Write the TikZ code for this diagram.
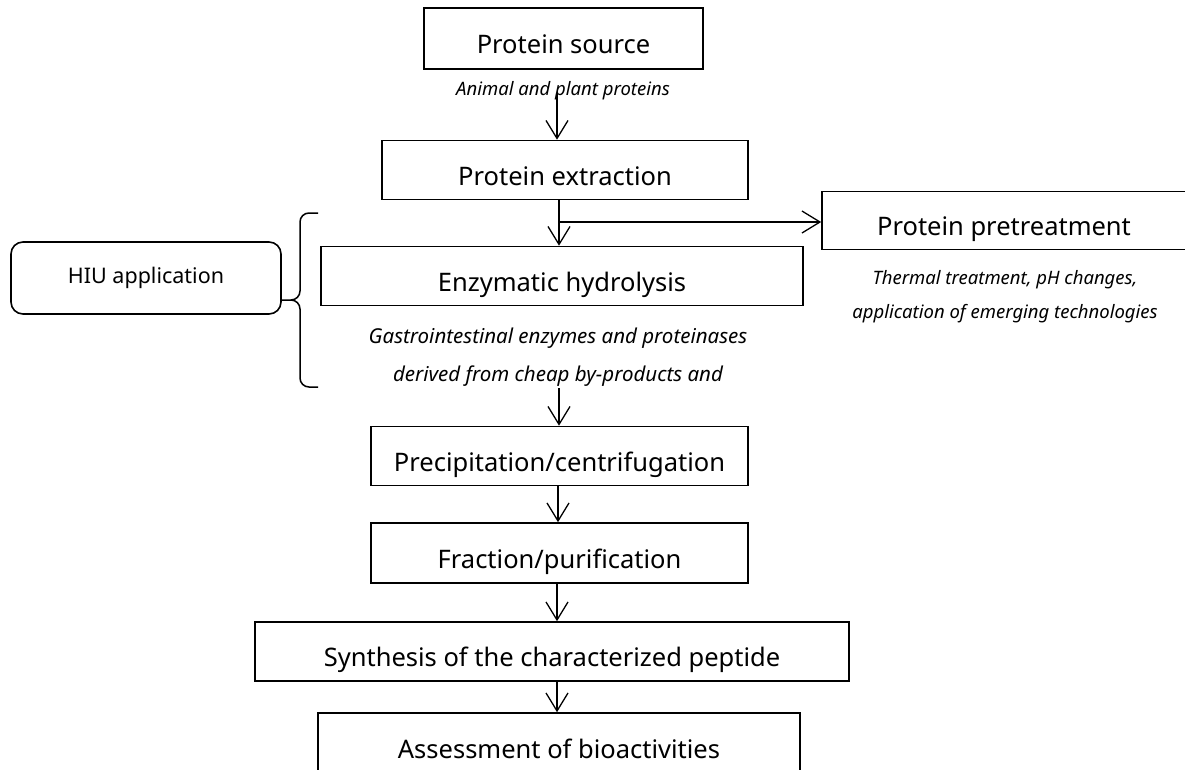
\documentclass[tikz,border=0pt]{standalone}
\usepackage{fontspec}
\setmainfont{Noto Sans}
\usetikzlibrary{arrows.meta}
\begin{document}
\begin{tikzpicture}[x=1pt,y=-1pt,
  box/.style={draw,line width=1.6pt,inner sep=0pt,
    font=\fontsize{25.5}{30}\selectfont,text height=31pt,text depth=1pt},
  note/.style={font=\fontsize{18.5}{22}\selectfont\itshape,anchor=base,inner sep=0pt},
  bignote/.style={note,font=\fontsize{20.5}{24}\selectfont\itshape},
  arr/.style={line width=1.3pt,-{Straight Barb[length=18pt,width=22pt,line width=1.3pt]}}]
\clip (0,0) rectangle (1185,769);
\fill[white] (0,0) rectangle (1185,769);
% boxes
\node[box,minimum width=279pt,minimum height=61pt] (src) at (563.5,38.5) {Protein source};
\node[box,minimum width=366pt,minimum height=59pt] (ext) at (565,170) {Protein extraction};
\node[box,minimum width=364pt,minimum height=58pt] (pre) at (1004,220.5) {Protein pretreatment};
\node[box,minimum width=482pt,minimum height=59pt] (enz) at (562,276) {Enzymatic hydrolysis};
\node[box,minimum width=377pt,minimum height=59pt] (prec) at (559.5,456) {Precipitation/centrifugation};
\node[box,minimum width=377pt,minimum height=60pt] (frac) at (559.5,553) {Fraction/purification};
\node[box,minimum width=594pt,minimum height=59pt] (syn) at (552,651.5) {Synthesis of the characterized peptide};
\node[box,minimum width=482pt,minimum height=60pt] (ass) at (559,743) {Assessment of bioactivities};
\node[draw,line width=1.6pt,rounded corners=12pt,minimum width=270pt,minimum height=72pt,
  inner sep=0pt,font=\fontsize{21.5}{26}\selectfont] (hiu) at (146,278) {HIU application};
% notes
\node[note] (n1) at (563,95.5) {Animal and plant proteins};
\node[bignote] (n2) at (558,343) {Gastrointestinal enzymes and proteinases};
\node[bignote] (n3) at (558,381) {derived from cheap by-products and};
\node[note] (n4) at (1005,284.5) {Thermal treatment, pH changes,};
\node[note] (n5) at (1005,318.5) {application of emerging technologies};
% brace
\coordinate (tip) at (282,300);
\draw[line width=1.5pt] (318,213) -- (309,213) to[out=180,in=90] (300,222) -- (300,291)
  to[out=-90,in=0] (291,300) -- (tip);
\draw[line width=1.5pt] (291,300) to[out=0,in=90] (300,309) -- (300,378)
  to[out=-90,in=180] (309,387) -- (318,387);
% arrows
\coordinate (a1) at (557,93);
\draw[arr] (a1) -- (a1 |- ext.north);
\coordinate (a2) at (559,199);
\draw[arr] (a2) -- (a2 |- enz.north);
\coordinate (b) at (559,222);
\draw[arr] (b) -- (b -| pre.west);
\coordinate (a3) at (559,388);
\draw[arr] (a3) -- (a3 |- prec.north);
\coordinate (a4) at (558,485);
\draw[arr] (a4) -- (a4 |- frac.north);
\coordinate (a5) at (557,583);
\draw[arr] (a5) -- (a5 |- syn.north);
\coordinate (a6) at (557,681);
\draw[arr] (a6) -- (a6 |- ass.north);
\end{tikzpicture}
\end{document}
